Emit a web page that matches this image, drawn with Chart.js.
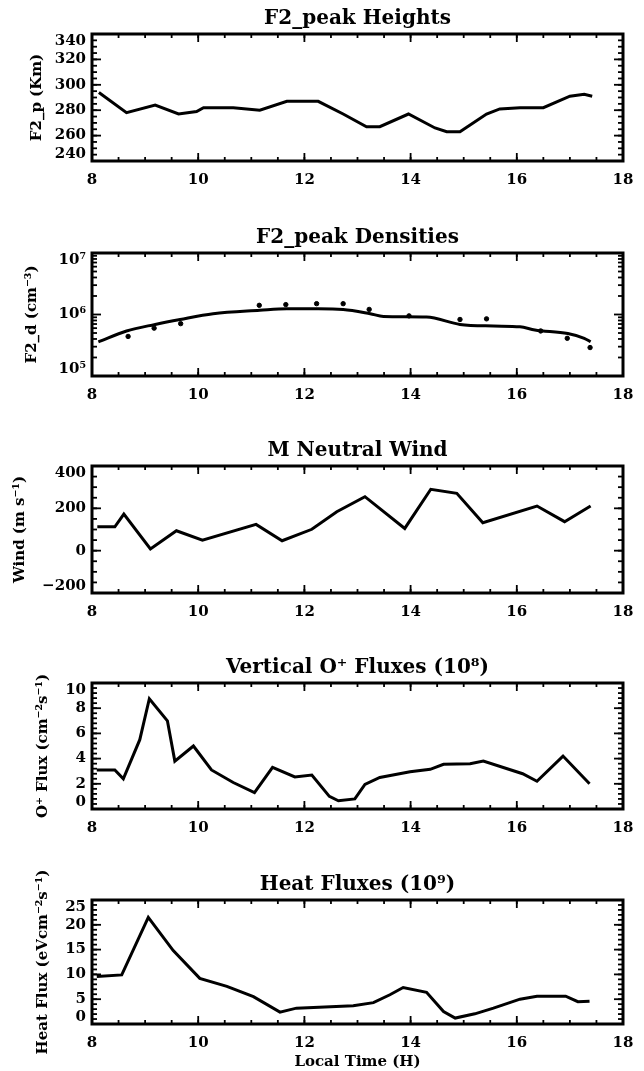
<!DOCTYPE html>
<html>
<head>
<meta charset="utf-8">
<script src="https://cdn.jsdelivr.net/npm/chart.js@4.4.1/dist/chart.umd.min.js"></script>
<style>
  html, body { margin: 0; padding: 0; background: #fff; }
  #wrap { position: relative; width: 644px; height: 1071px; overflow: hidden; }
  .pc { position: absolute; left: 0; width: 644px; }
</style>
</head>
<body>
<div id="wrap">
  <div class="pc" style="top:2px;height:189px"><canvas id="c1"></canvas></div>
  <div class="pc" style="top:221px;height:185px"><canvas id="c2"></canvas></div>
  <div class="pc" style="top:434px;height:189px"><canvas id="c3"></canvas></div>
  <div class="pc" style="top:651px;height:188px"><canvas id="c4"></canvas></div>
  <div class="pc" style="top:868px;height:203px"><canvas id="c5"></canvas></div>
</div>
<script>
// ---------- data ----------
const xTicks = [8, 10, 12, 14, 16, 18];

// Panel 1: F2 peak heights (km)
const heightHours = [8.13, 8.65, 9.19, 9.63, 9.97, 10.1, 10.66, 11.16, 11.67, 12.26, 12.73, 13.17, 13.42, 13.96, 14.46, 14.68, 14.93, 15.43, 15.68, 16.06, 16.5, 17.0, 17.27, 17.42];
const heightKm    = [294, 278, 284, 277, 279, 282, 282, 280, 287, 287, 277, 267, 267, 277, 266, 263, 263, 277, 281, 282, 282, 291, 292.5, 291];
const heightTicks = [240, 260, 280, 300, 320, 340];

// Panel 2: F2 peak densities (cm^-3) - model curve and observed dots
const densHours = [8.12, 8.65, 9.19, 9.66, 10.28, 11.16, 11.67, 12.26, 12.73, 13.24, 13.49, 14.3, 14.93, 15.56, 16.06, 16.34, 16.96, 17.27, 17.39];
const densCurve = [3.6e5, 5.4e5, 6.9e5, 8.3e5, 1.03e6, 1.17e6, 1.24e6, 1.24e6, 1.21e6, 1.03e6, 9.3e5, 9.1e5, 6.9e5, 6.5e5, 6.3e5, 5.6e5, 4.9e5, 4.1e5, 3.6e5];
const densObsHours = [8.68, 9.17, 9.67, 11.15, 11.65, 12.23, 12.73, 13.22, 13.97, 14.93, 15.43, 16.45, 16.95, 17.38];
const densObs      = [4.4e5, 6.0e5, 7.1e5, 1.41e6, 1.45e6, 1.5e6, 1.5e6, 1.21e6, 9.5e5, 8.3e5, 8.5e5, 5.4e5, 4.1e5, 2.9e5];
const densTicks = [1e5, 1e6, 1e7];

// Panel 3: meridional neutral wind (m/s)
const windHours = [8.1, 8.43, 8.6, 9.1, 9.59, 10.08, 11.09, 11.58, 12.14, 12.61, 13.14, 13.89, 14.38, 14.87, 15.36, 16.38, 16.9, 17.39];
const windMs    = [113, 113, 173, 8, 94, 50, 124, 47, 101, 184, 255, 105, 290, 271, 132, 211, 137, 211];
const windTicks = [-200, 0, 200, 400];

// Panel 4: vertical O+ fluxes
const oFluxHours = [8.09, 8.43, 8.59, 8.9, 9.08, 9.42, 9.56, 9.91, 10.25, 10.66, 11.06, 11.4, 11.82, 12.14, 12.47, 12.64, 12.95, 13.14, 13.42, 13.99, 14.37, 14.62, 15.12, 15.37, 16.11, 16.38, 16.87, 17.37];
const oFlux      = [3.1, 3.1, 2.4, 5.5, 8.75, 7.0, 3.8, 5.0, 3.1, 2.1, 1.3, 3.3, 2.55, 2.7, 1.0, 0.65, 0.8, 1.95, 2.5, 2.95, 3.15, 3.55, 3.6, 3.8, 2.8, 2.2, 4.2, 2.0];
const oFluxTicks = [0, 2, 4, 6, 8, 10];

// Panel 5: heat fluxes
const heatHours = [8.09, 8.56, 9.06, 9.53, 10.03, 10.54, 11.04, 11.54, 11.85, 12.92, 13.3, 13.61, 13.86, 14.3, 14.62, 14.84, 15.21, 15.56, 16.06, 16.38, 16.92, 17.15, 17.37];
const heatFlux  = [9.6, 9.9, 21.5, 14.8, 9.2, 7.6, 5.5, 2.4, 3.2, 3.7, 4.3, 5.9, 7.35, 6.4, 2.5, 1.2, 2.05, 3.2, 5.0, 5.6, 5.6, 4.5, 4.6];
const heatTicks = [0, 5, 10, 15, 20, 25];

// ---------- styling ----------
const FONT = "'DejaVu Serif', 'Liberation Serif', serif";
Chart.defaults.color = '#000';
Chart.defaults.font.family = FONT;
Chart.defaults.font.weight = 'bold';
Chart.defaults.animation = false;

const pts = (xs, ys) => xs.map((x, i) => ({ x, y: ys[i] }));

// IDL-like frame: thick box with inward major and minor ticks on all four sides
const frameTicks = {
  id: 'frameTicks',
  afterDraw(chart, args, o) {
    const { ctx, chartArea: a, scales: { x, y } } = chart;
    ctx.save();
    ctx.strokeStyle = '#000';
    ctx.lineWidth = 1.8;
    const seg = (x1, y1, x2, y2) => { ctx.beginPath(); ctx.moveTo(x1, y1); ctx.lineTo(x2, y2); ctx.stroke(); };
    const xt = (v, len) => { const p = x.getPixelForValue(v); seg(p, a.bottom, p, a.bottom - len); seg(p, a.top, p, a.top + len); };
    const yt = (v, len) => { const p = y.getPixelForValue(v); seg(a.left, p, a.left + len, p); seg(a.right, p, a.right - len, p); };
    for (let v = x.min; v <= x.max + 1e-9; v += 0.5) xt(v, 4);
    xTicks.forEach(v => xt(v, 8));
    (o.yMinor || []).forEach(v => yt(v, 5));
    (o.yMajor || []).forEach(v => yt(v, 9));
    ctx.lineWidth = 3;
    ctx.strokeRect(a.left, a.top, a.width, a.height);
    ctx.restore();
  }
};

function minorLinear(min, max, step) {
  const out = [];
  for (let v = min; v <= max + 1e-9; v += step) out.push(+v.toFixed(6));
  return out;
}
function minorLog(d0, d1) {
  const out = [];
  for (let d = d0; d < d1; d++) for (let k = 2; k <= 9; k++) out.push(k * Math.pow(10, d));
  return out;
}

const supDigits = { '-': '⁻', '0': '⁰', '1': '¹', '2': '²', '3': '³', '4': '⁴', '5': '⁵', '6': '⁶', '7': '⁷', '8': '⁸', '9': '⁹' };

function makeChart(id, cfg) {
  const datasets = [{
    type: 'line',
    data: pts(cfg.xs, cfg.ys),
    borderColor: '#000',
    borderWidth: 3,
    pointRadius: 0,
    tension: cfg.smooth ? 0.4 : 0,
    cubicInterpolationMode: cfg.smooth ? 'monotone' : 'default',
    fill: false
  }];
  if (cfg.dots) {
    datasets.push({
      type: 'scatter',
      data: pts(cfg.dots[0], cfg.dots[1]),
      backgroundColor: '#000',
      borderColor: '#000',
      pointRadius: 2.2,
      showLine: false
    });
  }
  const fmt = v => cfg.log
    ? '10' + String(Math.round(Math.log10(v))).split('').map(c => supDigits[c]).join('')
    : String(v).replace('-', '−');
  const yScale = {
    type: cfg.log ? 'logarithmic' : 'linear',
    min: cfg.yTicks[0],
    max: cfg.yTicks[cfg.yTicks.length - 1],
    grid: { display: false, drawTicks: false },
    border: { display: false },
    afterBuildTicks: s => { s.ticks = cfg.yTicks.map(v => ({ value: v })); },
    afterFit: s => { s.width = 92; },
    ticks: {
      autoSkip: false,
      padding: 6,
      font: { size: 15, weight: 'bold', family: FONT, lineHeight: 0.9 },
      // IDL style: the end labels are nudged inside the axis range
      callback: (v, i, t) => {
        const s = fmt(v);
        if (i === t.length - 1) return ['', s];
        if (i === 0) return [s, ''];
        return s;
      }
    },
    title: {
      display: true,
      text: cfg.yTitle,
      font: { size: 15, weight: 'bold', family: FONT },
      padding: { top: cfg.yTitlePad, bottom: 0 }
    }
  };
  const xScale = {
    type: 'linear',
    min: 8, max: 18,
    grid: { display: false, drawTicks: false },
    border: { display: false },
    afterBuildTicks: s => { s.ticks = xTicks.map(v => ({ value: v })); },
    afterFit: s => { s.height = cfg.xh; },
    ticks: { autoSkip: false, maxRotation: 0, padding: 10, font: { size: 15, weight: 'bold', family: FONT } },
    title: {
      display: !!cfg.xTitle,
      text: cfg.xTitle || '',
      font: { size: 15, weight: 'bold', family: FONT },
      padding: { top: 0, bottom: 0 }
    }
  };
  return new Chart(document.getElementById(id), {
    data: { datasets },
    options: {
      responsive: true,
      maintainAspectRatio: false,
      layout: { padding: { left: 0, right: 21, top: 0, bottom: 0 } },
      scales: { x: xScale, y: yScale },
      plugins: {
        legend: { display: false },
        tooltip: { enabled: false },
        title: {
          display: true,
          fullSize: false,
          text: cfg.title,
          font: { size: 20, weight: 'bold', family: FONT },
          padding: { top: 5, bottom: 3 }
        },
        frameTicks: { yMajor: cfg.yTicks, yMinor: cfg.yMinor }
      }
    },
    plugins: [frameTicks]
  });
}

makeChart('c1', {
  title: 'F2_peak Heights', yTitle: 'F2_p (Km)', yTitlePad: 28,
  xs: heightHours, ys: heightKm, yTicks: heightTicks,
  yMinor: minorLinear(240, 340, 5), xh: 30
});
makeChart('c2', {
  title: 'F2_peak Densities', yTitle: 'F2_d (cm⁻³)', yTitlePad: 23,
  xs: densHours, ys: densCurve, smooth: true, dots: [densObsHours, densObs],
  yTicks: densTicks, log: true, yMinor: minorLog(5, 7), xh: 30
});
makeChart('c3', {
  title: 'M Neutral Wind', yTitle: 'Wind (m s⁻¹)', yTitlePad: 11,
  xs: windHours, ys: windMs, yTicks: windTicks,
  yMinor: minorLinear(-200, 400, 50), xh: 30
});
makeChart('c4', {
  title: 'Vertical O⁺ Fluxes (10⁸)', yTitle: 'O⁺ Flux (cm⁻²s⁻¹)', yTitlePad: 34,
  xs: oFluxHours, ys: oFlux, yTicks: oFluxTicks,
  yMinor: minorLinear(0, 10, 0.4), xh: 30
});
makeChart('c5', {
  title: 'Heat Fluxes (10⁹)', yTitle: 'Heat Flux (eVcm⁻²s⁻¹)', yTitlePad: 34,
  xs: heatHours, ys: heatFlux, yTicks: heatTicks,
  yMinor: minorLinear(0, 25, 1), xh: 47, xTitle: 'Local Time (H)'
});
</script>
</body>
</html>
